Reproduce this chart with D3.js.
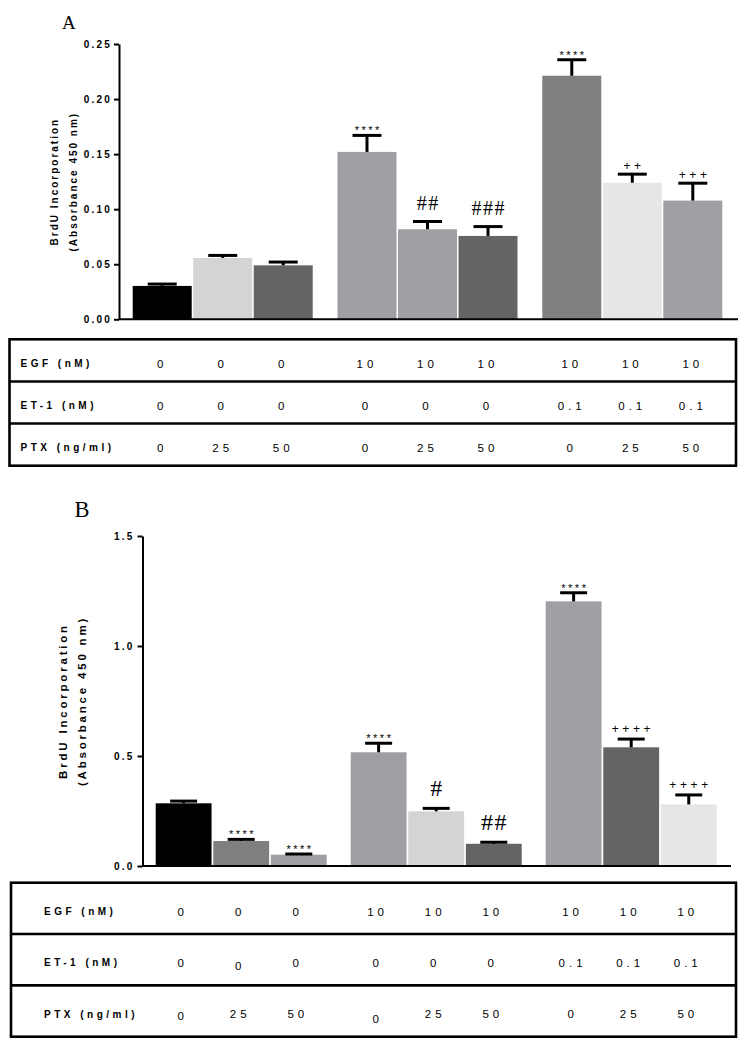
<!DOCTYPE html>
<html>
<head>
<meta charset="utf-8">
<script src="https://cdn.jsdelivr.net/npm/d3@7"></script>
<style>
  html, body { margin: 0; padding: 0; background: #fff; }
  svg { display: block; }
</style>
</head>
<body>
<script>
// ---------------- DATA ----------------
const tableLabels = ["EGF (nM)", "ET-1 (nM)", "PTX (ng/ml)"];
const egfRow = ["0", "0", "0", "10", "10", "10", "10", "10", "10"];
const et1Row = ["0", "0", "0", "0", "0", "0", "0.1", "0.1", "0.1"];
const ptxRow = ["0", "25", "50", "0", "25", "50", "0", "25", "50"];

const valuesA = [0.0303, 0.0557, 0.049, 0.152, 0.0818, 0.0757, 0.2212, 0.124, 0.1078];
const errorsA = [0.0017, 0.0023, 0.003, 0.015, 0.007, 0.0085, 0.0145, 0.0078, 0.0158];
const colorsA = ["#000000", "#d4d4d4", "#646464", "#a0a0a4", "#a0a0a4", "#646464", "#808080", "#e6e6e6", "#a0a0a4"];
const sigA = ["", "", "", "****", "##", "###", "****", "++", "+++"];
const ticksA = [0, 0.05, 0.10, 0.15, 0.20, 0.25];

const valuesB = [0.285, 0.1136, 0.0515, 0.517, 0.2485, 0.101, 1.203, 0.5395, 0.280];
const errorsB = [0.010, 0.0074, 0.003, 0.041, 0.0135, 0.007, 0.039, 0.0375, 0.043];
const colorsB = ["#000000", "#808080", "#a0a0a4", "#a0a0a4", "#d4d4d4", "#646464", "#a0a0a4", "#646464", "#e6e6e6"];
const sigB = ["", "****", "****", "****", "#", "##", "****", "++++", "++++"];
const ticksB = [0, 0.5, 1.0, 1.5];

const yTitle1 = "BrdU Incorporation";
const yTitle2 = "(Absorbance 450 nm)";

// ---------------- DRAWING ----------------
const SANS = "'Liberation Sans', Arial, Helvetica, sans-serif";
const SERIF = "'Liberation Serif', 'Times New Roman', serif";

const svg = d3.select("body").append("svg")
  .attr("width", 750).attr("height", 1048)
  .attr("viewBox", "0 0 750 1048");

function drawPanel(p) {
  const g = svg.append("g");
  const n = p.values.length;
  const groups = d3.range(n / 3);
  const outer = d3.scaleBand().domain(groups).range([p.left, p.right]).paddingInner(p.groupPad);
  const inner = d3.scaleBand().domain([0, 1, 2]).range([0, outer.bandwidth()]).paddingInner(p.barPad);
  const xLeft = i => outer(Math.floor(i / 3)) + inner(i % 3);
  const xMid = i => xLeft(i) + inner.bandwidth() / 2;
  const y = d3.scaleLinear().domain(p.domain).range([p.y0, p.y1]);

  // panel letter
  g.append("text").attr("x", p.letterX).attr("y", p.letterY)
    .attr("font-family", SERIF).attr("font-size", p.letterSize)
    .text(p.letter);

  // bars
  g.selectAll("rect.bar").data(p.values).join("rect")
    .attr("class", "bar")
    .attr("x", (d, i) => xLeft(i))
    .attr("width", inner.bandwidth())
    .attr("y", d => y(d))
    .attr("height", d => y(0) - y(d))
    .attr("fill", (d, i) => p.colors[i]);

  // error bars
  const eb = g.selectAll("g.err").data(p.values).join("g").attr("class", "err");
  eb.append("line")
    .attr("x1", (d, i) => xMid(i)).attr("x2", (d, i) => xMid(i))
    .attr("y1", d => y(d)).attr("y2", (d, i) => y(d + p.errors[i]))
    .attr("stroke", "#000").attr("stroke-width", 3);
  eb.append("line")
    .attr("x1", (d, i) => xMid(i) - p.capW / 2).attr("x2", (d, i) => xMid(i) + p.capW / 2)
    .attr("y1", (d, i) => y(d + p.errors[i])).attr("y2", (d, i) => y(d + p.errors[i]))
    .attr("stroke", "#000").attr("stroke-width", 3);

  // significance marks
  p.sig.forEach((s, i) => {
    if (!s) return;
    const capY = y(p.values[i] + p.errors[i]);
    const t = g.append("text").attr("text-anchor", "middle").text(s);
    if (s[0] === "*") {
      t.attr("font-family", SANS).attr("font-size", 11).attr("letter-spacing", 2.5)
        .attr("x", xMid(i) + 1.25).attr("y", capY - 1);
    } else if (s[0] === "+") {
      t.attr("font-family", SANS).attr("font-size", 12).attr("letter-spacing", 3.6)
        .attr("x", xMid(i) + 1.8).attr("y", capY - p.plusGap);
    } else {
      t.attr("font-family", SERIF).attr("font-size", p.hashSize).attr("letter-spacing", 1.5)
        .attr("x", xMid(i) + 0.75).attr("y", capY - 12);
    }
  });

  // baseline
  g.append("line").attr("x1", p.axisX).attr("x2", p.baseEnd)
    .attr("y1", y(0)).attr("y2", y(0))
    .attr("stroke", "#000").attr("stroke-width", 2);

  // y axis
  const ax = g.append("g").attr("transform", `translate(${p.axisX},0)`)
    .call(d3.axisLeft(y).tickValues(p.ticks).tickFormat(d3.format(p.fmt))
      .tickSize(5).tickSizeOuter(0).tickPadding(p.tickPad));
  ax.select(".domain").attr("stroke-width", 2);
  ax.selectAll(".tick line").attr("stroke-width", 2);
  ax.selectAll(".tick text")
    .attr("font-family", SANS).attr("font-size", 10).attr("font-weight", "bold")
    .attr("letter-spacing", 2.2).attr("fill", "#000");

  // y title
  const cy = (p.y0 + p.y1) / 2;
  [[yTitle1, p.title1X], [yTitle2, p.title2X]].forEach(([txt, cx]) => {
    g.append("text")
      .attr("transform", `translate(${cx + p.titleSize * 0.36},${cy}) rotate(-90)`)
      .attr("text-anchor", "middle")
      .attr("font-family", SANS).attr("font-size", p.titleSize).attr("font-weight", "bold")
      .attr("letter-spacing", p.titleLs)
      .text(txt);
  });

  // table
  const t = p.table;
  const tg = svg.append("g");
  const rowBand = d3.scaleBand().domain([0, 1, 2]).range([t.top, t.bottom]);
  tg.append("rect").attr("x", t.left).attr("y", t.top)
    .attr("width", t.right - t.left).attr("height", t.bottom - t.top)
    .attr("fill", "none").attr("stroke", "#000").attr("stroke-width", 2.6);
  [1, 2].forEach(r => {
    tg.append("line").attr("x1", t.left).attr("x2", t.right)
      .attr("y1", rowBand(r)).attr("y2", rowBand(r))
      .attr("stroke", "#000").attr("stroke-width", 2.6);
  });
  const rows = [egfRow, et1Row, ptxRow];
  rows.forEach((row, r) => {
    const base = rowBand(r) + rowBand.bandwidth() / 2 + 3;
    tg.append("text").attr("x", t.labelX).attr("y", base + 10 * 0.36)
      .attr("font-family", SANS).attr("font-size", 10).attr("font-weight", "bold")
      .attr("letter-spacing", 3.5).text(tableLabels[r]);
    tg.selectAll(null).data(row).join("text")
      .attr("x", (d, i) => xMid(i) + t.colShift + 2)
      .attr("y", (d, i) => base + 11.5 * 0.36 + (t.nudge[r] && t.nudge[r][i] ? t.nudge[r][i] : 0))
      .attr("text-anchor", "middle")
      .attr("font-family", SANS).attr("font-size", 11.5)
      .attr("letter-spacing", 4)
      .text(d => d);
  });
}

drawPanel({
  letter: "A", letterX: 62, letterY: 28.5, letterSize: 19,
  values: valuesA, errors: errorsA, colors: colorsA, sig: sigA,
  ticks: ticksA, fmt: ".2f", domain: [0, 0.25],
  y0: 319.3, y1: 44, left: 132.7, right: 722.3, groupPad: 0.121, barPad: 0.025,
  axisX: 119, baseEnd: 738, capW: 29, tickPad: 2, plusGap: 4, hashSize: 20,
  title1X: 54, title2X: 73, titleSize: 10, titleLs: 2,
  table: { left: 9.5, right: 736, top: 339.3, bottom: 465.7, labelX: 20.5, colShift: -2, nudge: {} }
});

drawPanel({
  letter: "B", letterX: 74.5, letterY: 517.3, letterSize: 22.5,
  values: valuesB, errors: errorsB, colors: colorsB, sig: sigB,
  ticks: ticksB, fmt: ".1f", domain: [0, 1.5],
  y0: 866, y1: 536, left: 155.7, right: 716.7, groupPad: 0.123, barPad: 0.03,
  axisX: 142.5, baseEnd: 731, capW: 27, tickPad: 3, plusGap: 6, hashSize: 24,
  title1X: 62.7, title2X: 81.7, titleSize: 11.5, titleLs: 2.8,
  table: { left: 11, right: 736, top: 882.7, bottom: 1036.7, labelX: 44, colShift: -3,
           nudge: { 1: { 1: 3 }, 2: { 0: 2, 3: 5 } } }
});
</script>
</body>
</html>
